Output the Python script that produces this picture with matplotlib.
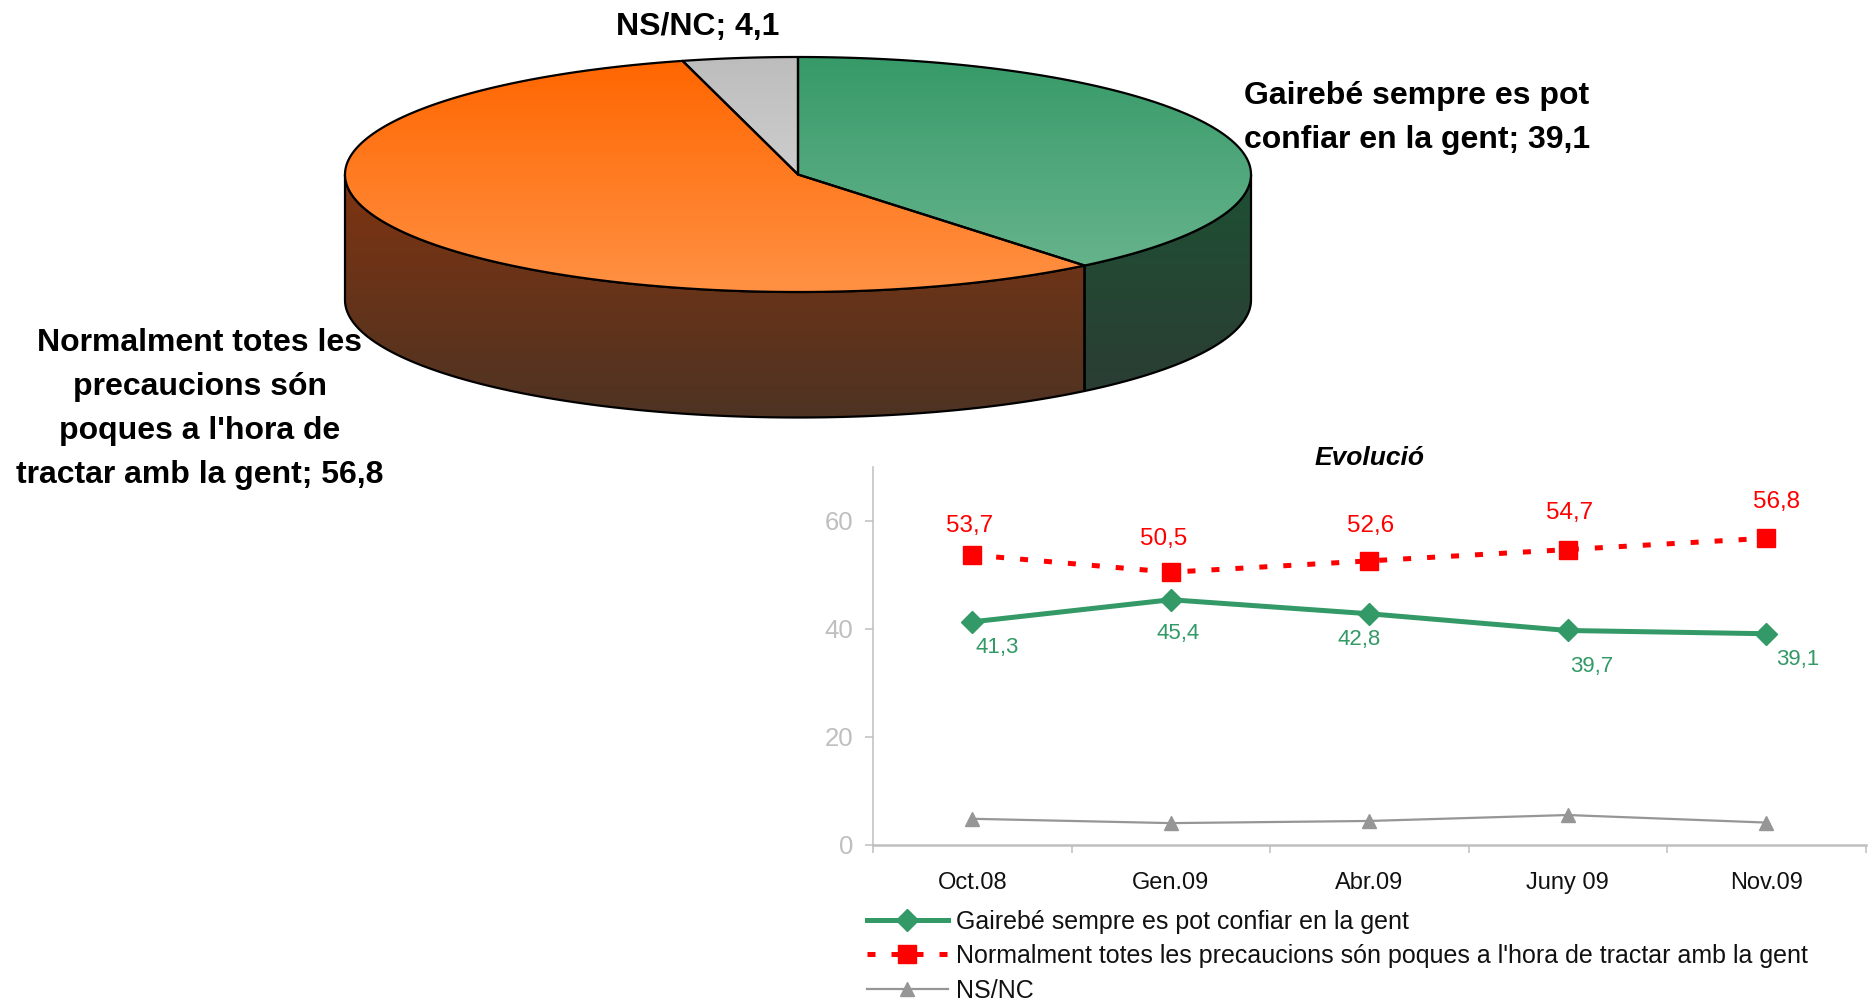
# -*- coding: utf-8 -*-
import numpy as np
import matplotlib
matplotlib.use("Agg")
import matplotlib.pyplot as plt
from matplotlib.colors import LinearSegmentedColormap
from matplotlib.patches import Polygon

plt.rcParams['font.family'] = ['Liberation Sans', 'DejaVu Sans']

W, H = 1874, 999

# pie data
pie_values = [39.1, 56.8, 4.1]
pie_labels = ["Gairebé sempre es pot\nconfiar en la gent; 39,1",
              "Normalment totes les\nprecaucions són\npoques a l'hora de\ntractar amb la gent; 56,8",
              "NS/NC; 4,1"]
pie_label_xy = [(1417, 118), (200, 409), (698, 27)]

# line chart data
months = ["Oct.08", "Gen.09", "Abr.09", "Juny 09", "Nov.09"]
gairebe = [41.3, 45.4, 42.8, 39.7, 39.1]
normalment = [53.7, 50.5, 52.6, 54.7, 56.8]
nsnc = [4.8, 4.0, 4.4, 5.5, 4.1]

# label offsets in pixels from the marker
red_offsets = [(-3, 29), (-7, 33), (1, 35), (2, 37), (10, 36)]
green_offsets = [(25, -26), (7, -34), (-10, -26), (24, -36), (31, -26)]

top_colors = [("#379A68", "#66B38C"), ("#FF6600", "#FF9144"), ("#BDBDBD", "#CDCDCD")]
side_colors = [("#1E5033", "#2B3D34"), ("#7F3410", "#4E3323"), ("#555555", "#333333")]

fig = plt.figure(figsize=(W / 100, H / 100), dpi=100, facecolor="white")

# whole-figure axes in pixel units, for the 3D pie
bg = fig.add_axes([0, 0, 1, 1])
bg.set_xlim(0, W)
bg.set_ylim(H, 0)
bg.axis("off")

cx, cy, rx, ry, depth = 798, 174.5, 453, 117.5, 125.5


def gradient_fill(xy, c1, c2, z):
    # vertical gradient clipped to a polygon
    xy = np.array(xy)
    cmap = LinearSegmentedColormap.from_list("g", [c1, c2])
    grad = np.linspace(0, 1, 256).reshape(-1, 1)
    im = bg.imshow(grad, cmap=cmap, aspect="auto", zorder=z,
                   extent=[xy[:, 0].min(), xy[:, 0].max(), xy[:, 1].max(), xy[:, 1].min()])
    p = Polygon(xy, closed=True, facecolor="none", edgecolor="black", linewidth=1.6,
                joinstyle="round", zorder=z + 0.5)
    bg.add_patch(p)
    im.set_clip_path(p)


# angles run clockwise from the top of the pie
edges = np.cumsum([0] + pie_values) / sum(pie_values) * 2 * np.pi

for i in range(len(pie_values)):
    a0, a1 = edges[i], edges[i + 1]
    # side wall, only where the slice faces the viewer
    s0, s1 = max(a0, np.pi / 2), min(a1, 3 * np.pi / 2)
    if s1 > s0:
        t = np.linspace(s0, s1, 200)
        x = cx + rx * np.sin(t)
        y = cy - ry * np.cos(t)
        wall = list(zip(x, y)) + list(zip(x[::-1], y[::-1] + depth))
        gradient_fill(wall, side_colors[i][0], side_colors[i][1], 3)

for i in range(len(pie_values)):
    t = np.linspace(edges[i], edges[i + 1], 300)
    top = [(cx, cy)] + list(zip(cx + rx * np.sin(t), cy - ry * np.cos(t)))
    gradient_fill(top, top_colors[i][0], top_colors[i][1], 4)

bg.set_xlim(0, W)
bg.set_ylim(H, 0)

for lab, (lx, ly) in zip(pie_labels, pie_label_xy):
    bg.text(lx, ly, lab, ha="center", va="center", fontsize=23, fontweight="bold",
            color="black", linespacing=1.62, zorder=6)

# line chart
left, right, y0, ytop = 873, 1865.5, 844.7, 467
ax = fig.add_axes([left / W, 1 - y0 / H, (right - left) / W, (y0 - ytop) / H])
ax.patch.set_alpha(0)
x = np.arange(len(months))

green = "#339966"
red = "#FF0000"
grey = "#969696"
ax.plot(x, gairebe, color=green, lw=3.6, marker="D", ms=11.5, mec=green, mfc=green,
        label="Gairebé sempre es pot confiar en la gent", clip_on=False)
ax.plot(x, normalment, color=red, lw=3.6, ls=(0, (1.6, 3.2)), marker="s", ms=13, mec=red, mfc=red,
        label="Normalment totes les precaucions són poques a l'hora de tractar amb la gent", clip_on=False)
ax.plot(x, nsnc, color=grey, lw=1.6, marker="^", ms=10, mec=grey, mfc=grey,
        label="NS/NC", clip_on=False)

for xi, v, off in zip(x, normalment, red_offsets):
    ax.annotate(str(v).replace(".", ","), (xi, v), xytext=off, textcoords="offset pixels",
                ha="center", va="center", fontsize=17.5, color=red)
for xi, v, off in zip(x, gairebe, green_offsets):
    ax.annotate(str(v).replace(".", ","), (xi, v), xytext=off, textcoords="offset pixels",
                ha="center", va="center", fontsize=16, color=green)

ax.set_xlim(-0.5, 4.5)
ax.set_ylim(0, 70)
ax.set_yticks([0, 20, 40, 60])
ax.set_xticks(np.arange(-0.5, 5))
ax.set_xticklabels([])
ax.set_xticks(x, minor=True)
ax.set_xticklabels(months, minor=True)
ax.tick_params(axis="x", which="major", length=6, width=1.1, color="#BFBFBF")
ax.tick_params(axis="x", which="minor", length=0, pad=20, labelsize=17, labelcolor="#111111")
ax.tick_params(axis="y", length=6, width=1.1, color="#BFBFBF", labelsize=18.5,
               labelcolor="#BFBFBF", pad=8)
for s in ["top", "right"]:
    ax.spines[s].set_visible(False)
ax.spines["left"].set_color("#BFBFBF")
ax.spines["left"].set_linewidth(1.1)
ax.spines["bottom"].set_color("#BFBFBF")
ax.spines["bottom"].set_linewidth(1.8)

bg.text(1370, 458, "Evolució", ha="center", va="center", fontsize=19,
        fontweight="bold", fontstyle="italic", color="black")

leg = ax.legend(loc="upper left", bbox_to_anchor=(867 / W, 1 - 909.5 / H), bbox_transform=fig.transFigure,
                frameon=False, fontsize=18, handlelength=3.24, handletextpad=0.33,
                labelspacing=0.42, borderaxespad=0, borderpad=0)
for t in leg.get_texts():
    t.set_color("#111111")

fig.savefig("out.png", dpi=100)
